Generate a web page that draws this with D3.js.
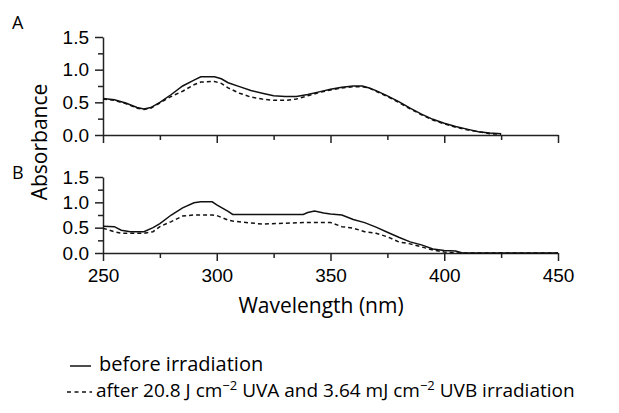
<!DOCTYPE html>
<html lang="en">
<head>
    <meta charset="UTF-8">
    <title>Absorbance spectra</title>
    <script src="https://d3js.org/d3.v7.min.js"></script>
    <style>
        body { margin: 0; background: #fff; }
        svg { font-family: "Open Sans", "Noto Sans", sans-serif; }
        .axis text { font-size: 19px; fill: #000; }
        .axis path, .axis line { stroke: #222; stroke-width: 1.5; }
        .curve { fill: none; stroke: #111; stroke-width: 1.5; }
        .dashed { stroke-dasharray: 4 3; }
        .lbl { font-size: 20px; fill: #000; }
        .title { font-size: 21px; fill: #000; }
    </style>
</head>
<body>
<svg width="619" height="413"></svg>
<script>
// Panel A: wavelengths (nm) and absorbance
const wlA = [250, 255, 260, 265, 268, 271, 275, 280, 285, 290, 293, 299, 302, 305, 310, 315, 320, 325, 330, 335,
             340, 345, 350, 355, 360, 364, 367, 370, 375, 380, 385, 390, 395, 400, 405, 410, 415, 420, 425];
const beforeA = [0.56, 0.54, 0.49, 0.42, 0.40, 0.42, 0.50, 0.62, 0.75, 0.84, 0.89, 0.89, 0.86, 0.80, 0.74, 0.68, 0.64, 0.60, 0.59, 0.59,
                 0.62, 0.66, 0.70, 0.73, 0.75, 0.75, 0.72, 0.68, 0.60, 0.51, 0.41, 0.32, 0.24, 0.18, 0.13, 0.09, 0.05, 0.03, 0.02];
const afterA = [0.55, 0.53, 0.48, 0.41, 0.39, 0.41, 0.49, 0.59, 0.67, 0.77, 0.81, 0.82, 0.79, 0.72, 0.64, 0.58, 0.55, 0.53, 0.53, 0.55,
                0.60, 0.65, 0.69, 0.72, 0.74, 0.74, 0.72, 0.67, 0.59, 0.50, 0.40, 0.31, 0.23, 0.17, 0.12, 0.08, 0.05, 0.02, 0.01];

// Panel B
const wlB = [250, 255, 258, 262, 268, 272, 275, 280, 285, 290, 293, 298, 300, 305, 307, 320, 338, 340, 343, 347,
             350, 355, 360, 365, 370, 375, 380, 385, 390, 395, 400, 405, 408, 450];
const beforeB = [0.53, 0.52, 0.45, 0.42, 0.42, 0.50, 0.58, 0.75, 0.89, 0.99, 1.01, 1.01, 0.95, 0.82, 0.76, 0.76, 0.76, 0.80, 0.83, 0.79,
                 0.77, 0.75, 0.66, 0.60, 0.51, 0.41, 0.31, 0.22, 0.16, 0.08, 0.05, 0.04, 0.0, 0.0];
const afterB = [0.49, 0.42, 0.39, 0.39, 0.39, 0.42, 0.52, 0.62, 0.73, 0.75, 0.75, 0.75, 0.74, 0.65, 0.63, 0.57, 0.60, 0.60, 0.60, 0.60,
                0.60, 0.52, 0.49, 0.42, 0.39, 0.32, 0.22, 0.18, 0.12, 0.06, 0.02, 0.0, 0.0, 0.0];

const xTicks = [250, 300, 350, 400, 450];
const xMinor = [275, 325, 375, 425];
const yTicks = [0, 0.5, 1.0, 1.5];
const yMinor = [0.25, 0.75, 1.25];

const svg = d3.select("svg");

const x = d3.scaleLinear().domain([250, 450]).range([103, 558]);

function panel(top, bottom, wl, before, after, showXLabels) {
    const y = d3.scaleLinear().domain([0, 1.5]).range([bottom, top]);
    const g = svg.append("g");

    // minor ticks first
    g.append("g").attr("class", "axis")
        .attr("transform", `translate(0,${bottom})`)
        .call(d3.axisBottom(x).tickValues(xMinor).tickSize(5).tickFormat(""))
        .select(".domain").remove();
    g.append("g").attr("class", "axis")
        .attr("transform", "translate(103,0)")
        .call(d3.axisLeft(y).tickValues(yMinor).tickSize(5).tickFormat(""))
        .select(".domain").remove();

    g.append("g").attr("class", "axis")
        .attr("transform", `translate(0,${bottom})`)
        .call(d3.axisBottom(x).tickValues(xTicks).tickSize(8).tickSizeOuter(0).tickPadding(8)
            .tickFormat(showXLabels ? d3.format("d") : ""));
    g.append("g").attr("class", "axis")
        .attr("transform", "translate(103,0)")
        .call(d3.axisLeft(y).tickValues(yTicks).tickSize(8).tickSizeOuter(0).tickPadding(6)
            .tickFormat(d3.format(".1f")));

    const line = d3.line().x(d => x(d[0])).y(d => y(d[1]));
    g.append("path").attr("class", "curve")
        .attr("d", line(wl.map((w, i) => [w, before[i]])));
    g.append("path").attr("class", "curve dashed")
        .attr("d", line(wl.map((w, i) => [w, after[i]])));
}

panel(37, 135, wlA, beforeA, afterA, false);
panel(177, 253, wlB, beforeB, afterB, true);

// panel letters and axis titles
svg.append("text").attr("class", "lbl").style("font-size", "18px").attr("x", 12).attr("y", 29).text("A");
svg.append("text").attr("class", "lbl").style("font-size", "18px").attr("x", 12).attr("y", 179).text("B");
svg.append("text").attr("class", "title")
    .attr("transform", "translate(47,142) rotate(-90)")
    .attr("text-anchor", "middle").text("Absorbance");
svg.append("text").attr("class", "title")
    .attr("x", 321).attr("y", 313).attr("text-anchor", "middle")
    .text("Wavelength (nm)");

// legend
const legend = svg.append("g");
legend.append("line").attr("class", "curve")
    .attr("x1", 70).attr("x2", 91).attr("y1", 366).attr("y2", 366);
legend.append("text").attr("class", "lbl").attr("x", 99).attr("y", 371).text("before irradiation");
legend.append("line").attr("class", "curve")
    .attr("stroke-dasharray", "4 3.5")
    .attr("x1", 67).attr("x2", 92).attr("y1", 392).attr("y2", 392);
const t2 = legend.append("text").attr("class", "lbl").style("font-size", "19px").attr("x", 96).attr("y", 397);
t2.append("tspan").text("after 20.8 J cm");
t2.append("tspan").attr("dy", -7).attr("font-size", 13).text("\u22122");
t2.append("tspan").attr("dy", 7).text(" UVA and 3.64 mJ cm");
t2.append("tspan").attr("dy", -7).attr("font-size", 13).text("\u22122");
t2.append("tspan").attr("dy", 7).text(" UVB irradiation");
</script>
</body>
</html>
